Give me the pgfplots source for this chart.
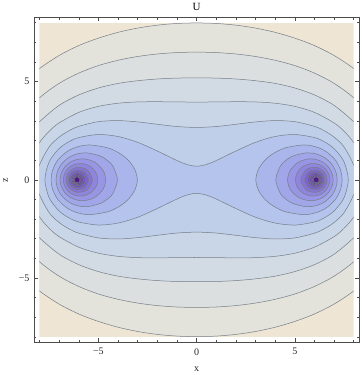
\documentclass[border=0pt]{standalone}
\usepackage{pgfplots}
\pgfplotsset{compat=1.18}
\usepackage{fontspec}
\setmainfont{Liberation Serif}
\definecolor{b0}{RGB}{238,229,212}
\definecolor{b1}{RGB}{227,226,219}
\definecolor{b2}{RGB}{219,223,224}
\definecolor{b3}{RGB}{210,219,228}
\definecolor{b4}{RGB}{201,214,231}
\definecolor{b5}{RGB}{191,207,233}
\definecolor{b6}{RGB}{180,196,236}
\definecolor{b7}{RGB}{170,181,236}
\definecolor{b8}{RGB}{161,166,233}
\definecolor{b9}{RGB}{152,150,228}
\definecolor{b10}{RGB}{143,133,220}
\definecolor{b11}{RGB}{133,116,210}
\definecolor{b12}{RGB}{123,99,199}
\definecolor{b13}{RGB}{113,82,187}
\definecolor{b14}{RGB}{103,65,174}
\definecolor{b15}{RGB}{94,50,160}
\definecolor{b16}{RGB}{85,36,146}
\definecolor{b17}{RGB}{78,26,134}
\definecolor{lc}{RGB}{118,126,134}
\pgfplotsset{cl/.style={draw=lc, line width=0.5bp, smooth cycle, fill=#1}}
\begin{document}
\begin{tikzpicture}
\begin{axis}[at={(0,0)}, anchor=center, scale only axis, width=313bp, height=313bp,
  xmin=-8, xmax=8, ymin=-8, ymax=8, hide axis, clip=true]
\addplot[fill=b0, draw=none] coordinates {(-8,-8) (8,-8) (8,8) (-8,8)} -- cycle;
% level 0
\addplot[cl=b1] coordinates {(10.995,0) (10.7,2.0) (10,3.45) (9,4.8) (8,5.664) (7,6.33) (6,6.835) (5,7.213) (4,7.509) (3,7.725) (2,7.874) (1,7.96) (0,7.987)
 (-1,7.96) (-2,7.874) (-3,7.725) (-4,7.509) (-5,7.213) (-6,6.835) (-7,6.33) (-8,5.664) (-9,4.8) (-10,3.45) (-10.7,2.0) (-10.995,0)
 (-10.7,-2.0) (-10,-3.45) (-9,-4.8) (-8,-5.664) (-7,-6.33) (-6,-6.835) (-5,-7.213) (-4,-7.509) (-3,-7.725) (-2,-7.874) (-1,-7.96) (0,-7.987)
 (1,-7.96) (2,-7.874) (3,-7.725) (4,-7.509) (5,-7.213) (6,-6.835) (7,-6.33) (8,-5.664) (9,-4.8) (10,-3.45) (10.7,-2.0)};
% level 1
\addplot[cl=b2] coordinates {(9.985,0) (9.7,1.8) (9,3.1) (8,4.172) (7,4.909) (6,5.433) (5,5.816) (4,6.086) (3,6.278) (2,6.406) (1,6.478) (0,6.5)
 (-1,6.478) (-2,6.406) (-3,6.278) (-4,6.086) (-5,5.816) (-6,5.433) (-7,4.909) (-8,4.172) (-9,3.1) (-9.7,1.8) (-9.985,0)
 (-9.7,-1.8) (-9,-3.1) (-8,-4.172) (-7,-4.909) (-6,-5.433) (-5,-5.816) (-4,-6.086) (-3,-6.278) (-2,-6.406) (-1,-6.478) (0,-6.5)
 (1,-6.478) (2,-6.406) (3,-6.278) (4,-6.086) (5,-5.816) (6,-5.433) (7,-4.909) (8,-4.172) (9,-3.1) (9.7,-1.8)};
% level 2
\addplot[cl=b3] coordinates {(9.21,0) (9,1.3) (8.5,2.33) (8,2.953) (7,3.79) (6,4.322) (5,4.675) (4,4.907) (3,5.045) (2,5.133) (1,5.178) (0,5.19)
 (-1,5.178) (-2,5.133) (-3,5.045) (-4,4.907) (-5,4.675) (-6,4.322) (-7,3.79) (-8,2.953) (-8.5,2.33) (-9,1.3) (-9.21,0)
 (-9,-1.3) (-8.5,-2.33) (-8,-2.953) (-7,-3.79) (-6,-4.322) (-5,-4.675) (-4,-4.907) (-3,-5.045) (-2,-5.133) (-1,-5.178) (0,-5.19)
 (1,-5.178) (2,-5.133) (3,-5.045) (4,-4.907) (5,-4.675) (6,-4.322) (7,-3.79) (8,-2.953) (8.5,-2.33) (9,-1.3)};
% level 3
\addplot[cl=b4] coordinates {(8.595,0) (8.4,1.07) (8,1.893) (7.5,2.48) (7,2.896) (6,3.433) (5,3.739) (4,3.898) (3,3.965) (2,3.975) (1,3.965) (0,3.957)
 (-1,3.965) (-2,3.975) (-3,3.965) (-4,3.898) (-5,3.739) (-6,3.433) (-7,2.896) (-7.5,2.48) (-8,1.893) (-8.4,1.07) (-8.595,0)
 (-8.4,-1.07) (-8,-1.893) (-7.5,-2.48) (-7,-2.896) (-6,-3.433) (-5,-3.739) (-4,-3.898) (-3,-3.965) (-2,-3.975) (-1,-3.965) (0,-3.957)
 (1,-3.965) (2,-3.975) (3,-3.965) (4,-3.898) (5,-3.739) (6,-3.433) (7,-2.896) (7.5,-2.48) (8,-1.893) (8.4,-1.07)};
% level 4
\addplot[cl=b5] coordinates {(8.12,0) (8,0.75) (7.5,1.686) (7,2.175) (6.5,2.5) (6,2.72) (5,2.96) (4,3.014) (3,2.947) (2,2.826) (1,2.712) (0,2.666)
 (-1,2.712) (-2,2.826) (-3,2.947) (-4,3.014) (-5,2.96) (-6,2.72) (-6.5,2.5) (-7,2.175) (-7.5,1.686) (-8,0.75) (-8.12,0)
 (-8,-0.75) (-7.5,-1.686) (-7,-2.175) (-6.5,-2.5) (-6,-2.72) (-5,-2.96) (-4,-3.014) (-3,-2.947) (-2,-2.826) (-1,-2.712) (0,-2.666)
 (1,-2.712) (2,-2.826) (3,-2.947) (4,-3.014) (5,-2.96) (6,-2.72) (6.5,-2.5) (7,-2.175) (7.5,-1.686) (8,-0.75)};
% level 5 (dumbbell)
\addplot[cl=b6] coordinates {(7.725,0) (7.5,0.932) (7,1.587) (6.5,1.94) (6,2.15) (5,2.305) (4,2.205) (3,1.908) (2,1.463) (1,0.98) (0.5,0.78) (0,0.69)
 (-0.5,0.78) (-1,0.98) (-2,1.463) (-3,1.908) (-4,2.205) (-5,2.305) (-6,2.15) (-6.5,1.94) (-7,1.587) (-7.5,0.932) (-7.725,0)
 (-7.5,-0.932) (-7,-1.587) (-6.5,-1.94) (-6,-2.15) (-5,-2.305) (-4,-2.205) (-3,-1.908) (-2,-1.463) (-1,-0.98) (-0.5,-0.78) (0,-0.69)
 (0.5,-0.78) (1,-0.98) (2,-1.463) (3,-1.908) (4,-2.205) (5,-2.305) (6,-2.15) (6.5,-1.94) (7,-1.587) (7.5,-0.932)};
% level 6
\addplot[cl=b7] coordinates {(7.41,0) (7.345,0.453) (7.083,0.983) (6.617,1.422) (6.1,1.669) (5.454,1.774) (4.484,1.616) (3.848,1.3) (3.45,0.964) (3.146,0.521) (3.015,0)
 (3.146,-0.521) (3.45,-0.964) (3.848,-1.3) (4.484,-1.616) (5.454,-1.774) (6.1,-1.669) (6.617,-1.422) (7.083,-0.983) (7.345,-0.453)};
\addplot[cl=b7] coordinates {(-7.41,0) (-7.345,0.453) (-7.083,0.983) (-6.617,1.422) (-6.1,1.669) (-5.454,1.774) (-4.484,1.616) (-3.848,1.3) (-3.45,0.964) (-3.146,0.521) (-3.015,0)
 (-3.146,-0.521) (-3.45,-0.964) (-3.848,-1.3) (-4.484,-1.616) (-5.454,-1.774) (-6.1,-1.669) (-6.617,-1.422) (-7.083,-0.983) (-7.345,-0.453)};
% level 7
\addplot[cl=b8] coordinates {(7.156,0) (7.103,0.365) (6.889,0.789) (6.512,1.132) (6.1,1.313) (5.601,1.372) (4.896,1.204) (4.48,0.935) (4.252,0.673) (4.03,0)
 (4.252,-0.673) (4.48,-0.935) (4.896,-1.204) (5.601,-1.372) (6.1,-1.313) (6.512,-1.132) (6.889,-0.789) (7.103,-0.365)};
\addplot[cl=b8] coordinates {(-7.156,0) (-7.103,0.365) (-6.889,0.789) (-6.512,1.132) (-6.1,1.313) (-5.601,1.372) (-4.896,1.204) (-4.48,0.935) (-4.252,0.673) (-4.03,0)
 (-4.252,-0.673) (-4.48,-0.935) (-4.896,-1.204) (-5.601,-1.372) (-6.1,-1.313) (-6.512,-1.132) (-6.889,-0.789) (-7.103,-0.365)};
% level 8
\addplot[cl=b9] coordinates {(6.951,0) (6.907,0.294) (6.732,0.632) (6.428,0.9) (6.1,1.032) (5.714,1.062) (5.196,0.904) (4.766,0.486) (4.633,0)
 (4.766,-0.486) (5.196,-0.904) (5.714,-1.062) (6.1,-1.032) (6.428,-0.9) (6.732,-0.632) (6.907,-0.294)};
\addplot[cl=b9] coordinates {(-6.951,0) (-6.907,0.294) (-6.732,0.632) (-6.428,0.9) (-6.1,1.032) (-5.714,1.062) (-5.196,0.904) (-4.766,0.486) (-4.633,0)
 (-4.766,-0.486) (-5.196,-0.904) (-5.714,-1.062) (-6.1,-1.032) (-6.428,-0.9) (-6.732,-0.632) (-6.907,-0.294)};
% level 9
\addplot[cl=b10] coordinates {(6.784,0) (6.748,0.236) (6.605,0.505) (6.362,0.719) (6.1,0.81) (5.801,0.822) (5.417,0.683) (5.123,0.356) (5.031,0)
 (5.123,-0.356) (5.417,-0.683) (5.801,-0.822) (6.1,-0.81) (6.362,-0.719) (6.605,-0.505) (6.748,-0.236)};
\addplot[cl=b10] coordinates {(-6.784,0) (-6.748,0.236) (-6.605,0.505) (-6.362,0.719) (-6.1,0.81) (-5.801,0.822) (-5.417,0.683) (-5.123,0.356) (-5.031,0)
 (-5.123,-0.356) (-5.417,-0.683) (-5.801,-0.822) (-6.1,-0.81) (-6.362,-0.719) (-6.605,-0.505) (-6.748,-0.236)};
% level 10
\addplot[cl=b11] coordinates {(6.65,0) (6.503,0.403) (6.1,0.636) (5.582,0.518) (5.303,0) (5.582,-0.518) (6.1,-0.636) (6.503,-0.403)};
\addplot[cl=b11] coordinates {(-6.65,0) (-6.503,0.403) (-6.1,0.636) (-5.582,0.518) (-5.303,0) (-5.582,-0.518) (-6.1,-0.636) (-6.503,-0.403)};
% level 11
\addplot[cl=b12] coordinates {(6.538,0) (6.424,0.324) (6.1,0.499) (5.704,0.396) (5.503,0) (5.704,-0.396) (6.1,-0.499) (6.424,-0.324)};
\addplot[cl=b12] coordinates {(-6.538,0) (-6.424,0.324) (-6.1,0.499) (-5.704,0.396) (-5.503,0) (-5.704,-0.396) (-6.1,-0.499) (-6.424,-0.324)};
% level 12
\addplot[cl=b13] coordinates {(6.45,0) (6.357,0.257) (6.1,0.392) (5.796,0.304) (5.648,0) (5.796,-0.304) (6.1,-0.392) (6.357,-0.257)};
\addplot[cl=b13] coordinates {(-6.45,0) (-6.357,0.257) (-6.1,0.392) (-5.796,0.304) (-5.648,0) (-5.796,-0.304) (-6.1,-0.392) (-6.357,-0.257)};
% level 13
\addplot[cl=b14] coordinates {(6.379,0) (6.304,0.204) (6.1,0.309) (5.867,0.233) (5.752,0) (5.867,-0.233) (6.1,-0.309) (6.304,-0.204)};
\addplot[cl=b14] coordinates {(-6.379,0) (-6.304,0.204) (-6.1,0.309) (-5.867,0.233) (-5.752,0) (-5.867,-0.233) (-6.1,-0.309) (-6.304,-0.204)};
% level 14
\addplot[cl=b15] coordinates {(6.321,0) (6.261,0.161) (6.1,0.243) (5.917,0.183) (5.83,0) (5.917,-0.183) (6.1,-0.243) (6.261,-0.161)};
\addplot[cl=b15] coordinates {(-6.321,0) (-6.261,0.161) (-6.1,0.243) (-5.917,0.183) (-5.83,0) (-5.917,-0.183) (-6.1,-0.243) (-6.261,-0.161)};
% level 15
\addplot[cl=b16] coordinates {(6.275,0) (6.227,0.127) (6.1,0.191) (5.956,0.144) (5.89,0) (5.956,-0.144) (6.1,-0.191) (6.227,-0.127)};
\addplot[cl=b16] coordinates {(-6.275,0) (-6.227,0.127) (-6.1,0.191) (-5.956,0.144) (-5.89,0) (-5.956,-0.144) (-6.1,-0.191) (-6.227,-0.127)};
% level 16
\addplot[cl=b17] coordinates {(6.239,0) (6.2,0.1) (6.1,0.151) (5.985,0.114) (5.934,0) (5.985,-0.114) (6.1,-0.151) (6.2,-0.1)};
\addplot[cl=b17] coordinates {(-6.239,0) (-6.2,0.1) (-6.1,0.151) (-5.985,0.114) (-5.934,0) (-5.985,-0.114) (-6.1,-0.151) (-6.2,-0.1)};
\end{axis}
\begin{axis}[at={(0,0)}, anchor=center, scale only axis, width=324bp, height=324bp,
  xmin=-8.28, xmax=8.28, ymin=-8.28, ymax=8.28,
  xtick={-5,0,5}, ytick={-5,0,5},
  xticklabels={−5,0,5}, yticklabels={−5,0,5},
  minor xtick={-8,-7,...,8}, minor ytick={-8,-7,...,8},
  tick align=inside, tick pos=both, xticklabel pos=lower, yticklabel pos=left,
  major tick length=4bp, minor tick length=2.5bp,
  every tick/.style={draw=black!70, line width=0.5bp},
  axis line style={draw=black!70, line width=0.6bp},
  ticklabel style={font=\fontsize{10}{12}\selectfont, text=black!85},
  xticklabel style={yshift=-2.5bp}, yticklabel style={xshift=-1bp},
  title={U}, title style={font=\fontsize{11}{13}\selectfont, yshift=-3bp},
  xlabel={x}, ylabel={z},
  label style={font=\fontsize{10}{12}\selectfont, text=black!85},
  xlabel style={yshift=-5bp}, ylabel style={yshift=4bp},
  extra description/.code={\path (rel axis cs:1,0.5) ++(2bp,0);}]
\end{axis}
\end{tikzpicture}
\end{document}
